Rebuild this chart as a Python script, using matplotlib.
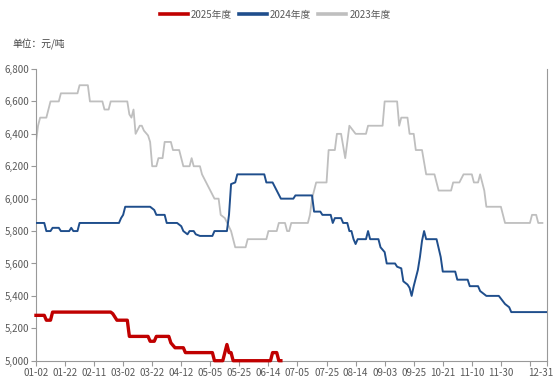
import matplotlib.pyplot as plt
from matplotlib.ticker import FuncFormatter
from matplotlib.transforms import ScaledTranslation

plt.rcParams['font.family'] = ['Noto Sans CJK SC', 'DejaVu Sans']

# 交易日序号 / 价格 (元/吨)
day_2023 = [0, 1, 2, 5, 6, 7, 11, 12, 20, 21, 25, 26, 32, 33, 35, 36, 44, 45, 46, 47,
            48, 50, 51, 52, 54, 55, 56, 58, 59, 61, 62, 65, 66, 69, 70, 71, 74, 75, 76,
            79, 80, 82, 84, 86, 88, 89, 91, 94, 96, 101, 102, 111, 112, 116, 117, 120,
            121, 122, 123, 131, 132, 133, 135, 140, 141, 144, 145, 147, 149, 151, 154,
            159, 160, 167, 168, 174, 175, 176, 179, 180, 182, 183, 186, 188, 192, 193,
            194, 200, 201, 204, 206, 210, 211, 213, 214, 215, 216, 217, 224, 226, 238,
            239, 241, 242, 244]
price_2023 = [6350, 6450, 6500, 6500, 6550, 6600, 6600, 6650, 6650, 6700, 6700, 6600,
              6600, 6550, 6550, 6600, 6600, 6520, 6500, 6550, 6400, 6450, 6450, 6420,
              6390, 6350, 6200, 6200, 6250, 6250, 6350, 6350, 6300, 6300, 6250, 6200,
              6200, 6250, 6200, 6200, 6150, 6100, 6050, 6000, 6000, 5900, 5880, 5800,
              5700, 5700, 5750, 5750, 5800, 5800, 5850, 5850, 5800, 5800, 5850, 5850,
              5900, 6000, 6100, 6100, 6300, 6300, 6400, 6400, 6250, 6450, 6400, 6400,
              6450, 6450, 6600, 6600, 6450, 6500, 6500, 6400, 6400, 6300, 6300, 6150,
              6150, 6100, 6050, 6050, 6100, 6100, 6150, 6150, 6100, 6100, 6150, 6100,
              6050, 5950, 5950, 5850, 5850, 5900, 5900, 5850, 5850]

day_2024 = [0, 4, 5, 7, 8, 11, 12, 16, 17, 18, 20, 21, 40, 41, 42, 43, 55, 57, 58, 62,
            63, 68, 70, 71, 73, 74, 76, 77, 79, 85, 86, 92, 93, 94, 96, 97, 110, 111,
            114, 116, 118, 124, 125, 133, 134, 137, 138, 142, 143, 144, 147, 148, 150,
            151, 152, 153, 154, 155, 159, 160, 161, 165, 166, 168, 169, 173, 174, 176,
            177, 179, 180, 181, 182, 183, 184, 185, 186, 187, 188, 193, 195, 196, 202,
            203, 208, 209, 213, 214, 217, 223, 226, 228, 229, 246]
price_2024 = [5850, 5850, 5800, 5800, 5820, 5820, 5800, 5800, 5820, 5800, 5800, 5850,
              5850, 5880, 5900, 5950, 5950, 5930, 5900, 5900, 5850, 5850, 5830, 5800,
              5780, 5800, 5800, 5780, 5770, 5770, 5800, 5800, 5900, 6090, 6100, 6150,
              6150, 6100, 6100, 6050, 6000, 6000, 6020, 6020, 5920, 5920, 5900, 5900,
              5850, 5880, 5880, 5850, 5850, 5800, 5800, 5750, 5720, 5750, 5750, 5800,
              5750, 5750, 5700, 5670, 5600, 5600, 5580, 5570, 5490, 5470, 5450, 5400,
              5460, 5510, 5560, 5640, 5740, 5800, 5750, 5750, 5640, 5550, 5550, 5500,
              5500, 5460, 5460, 5430, 5400, 5400, 5350, 5330, 5300, 5300]

day_2025 = [0, 4, 5, 7, 8, 36, 37, 39, 44, 45, 54, 55, 57, 58, 64, 65, 67, 71, 72, 85,
            86, 90, 91, 92, 93, 94, 95, 113, 114, 116, 117, 118]
price_2025 = [5280, 5280, 5250, 5250, 5300, 5300, 5290, 5250, 5250, 5150, 5150, 5120,
              5120, 5150, 5150, 5110, 5080, 5080, 5050, 5050, 5000, 5000, 5050, 5100,
              5050, 5050, 5000, 5000, 5050, 5050, 5000, 5000]

tick_pos = [0, 14, 28, 42, 56, 70, 84, 98, 112, 126, 140, 154, 168, 182, 196, 210,
            224, 238, 246]
tick_labels = ['01-02', '01-22', '02-11', '03-02', '03-22', '04-12', '05-05', '05-25',
               '06-14', '07-05', '07-25', '08-14', '09-03', '09-25', '10-21', '11-10',
               '11-30', '', '12-31']

fig = plt.figure(figsize=(5.56, 3.83), dpi=100)
ax = fig.add_axes([0.0647, 0.0582, 0.9183, 0.7616])

ax.plot(day_2023, price_2023, color='#BFBFBF', lw=1.3, label='2023年度', zorder=2)
ax.plot(day_2024, price_2024, color='#1F4E8C', lw=1.4, label='2024年度', zorder=3)
ax.plot(day_2025, price_2025, color='#C00000', lw=2.4, label='2025年度', zorder=4,
        clip_on=False)

ax.set_xlim(0, 246)
ax.set_ylim(5000, 6800)
ax.set_yticks(range(5000, 6801, 200))
ax.yaxis.set_major_formatter(FuncFormatter(lambda v, p: f'{int(v):,}'))
ax.set_xticks(tick_pos)
ax.set_xticklabels(tick_labels)

for s in ['left', 'bottom', 'right']:
    ax.spines[s].set_color('#999999')
    ax.spines[s].set_linewidth(0.8)
ax.spines['top'].set_visible(False)
ax.tick_params(axis='both', colors='#999999', labelcolor='#595959', labelsize=7,
               length=3.5, width=0.8, pad=1.5)

# 最后一个日期标签贴近右边缘, 稍向左移
last = ax.get_xticklabels()[-1]
last.set_transform(last.get_transform() + ScaledTranslation(-4 / 72, 0, fig.dpi_scale_trans))

handles, labels = ax.get_legend_handles_labels()
order = [2, 1, 0]
fig.legend([handles[i] for i in order], [labels[i] for i in order],
           loc='center', bbox_to_anchor=(0.495, 0.962), ncol=3, frameon=False,
           fontsize=7, labelcolor='#595959', handlelength=2.9, handletextpad=0.3,
           columnspacing=0.7)
for line in fig.legends[0].get_lines():
    line.set_linewidth(2.6)

fig.text(0.022, 0.885, '单位：元/吨', fontsize=7, color='#404040', va='center')

fig.savefig('out.png', dpi=100)
